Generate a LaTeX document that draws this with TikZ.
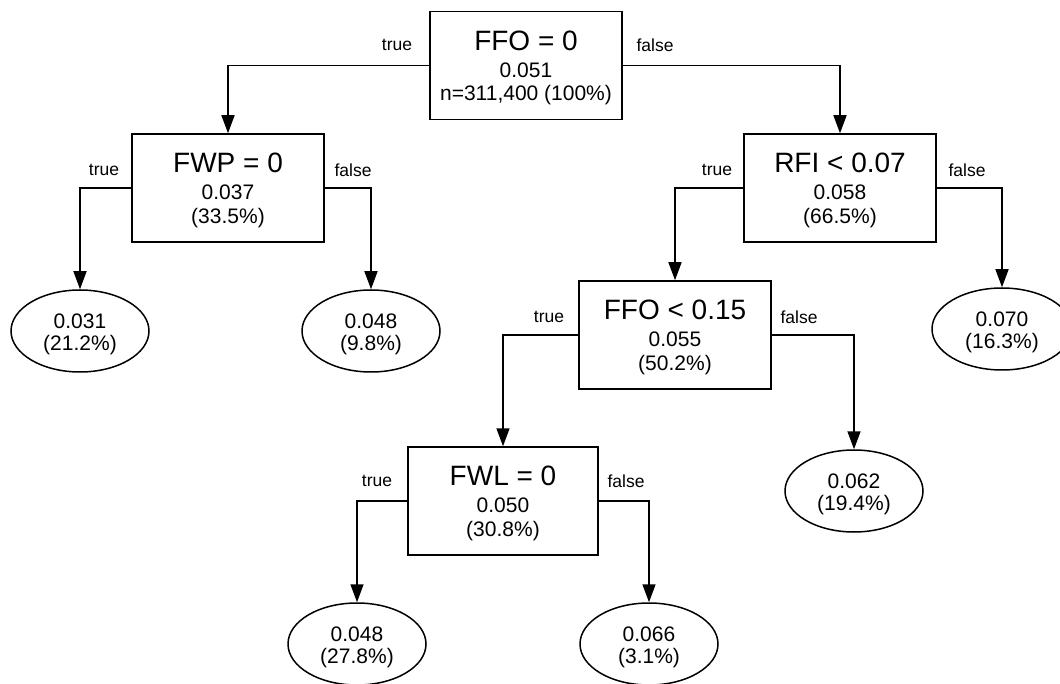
\documentclass[tikz,border=0pt]{standalone}
\usepackage{fontspec}
\setmainfont{Liberation Sans}
\usetikzlibrary{arrows.meta,shapes.geometric}
\tikzset{
  splitbox/.style={draw, line width=1.5pt, minimum width=192pt, minimum height=108pt, inner sep=0pt, align=center, font=\fontsize{21}{23.5}\selectfont},
  leafnode/.style={draw, ellipse, line width=1.5pt, minimum width=138pt, minimum height=82pt, inner sep=0pt, align=center, font=\fontsize{21}{22.5}\selectfont},
  edgelabel/.style={font=\fontsize{17.5}{20}\selectfont, inner sep=0pt},
  branch/.style={line width=1.5pt, -{Triangle[length=18pt,width=13pt]}}
}
\newcommand{\ttlfont}{\fontsize{28}{30}\selectfont}
\newcommand{\ttlstrut}{\rule{0pt}{24pt}}
\newcommand{\leafstrut}{\rule{0pt}{21pt}}
\begin{document}
\begin{tikzpicture}[x=1pt,y=-1pt]
\useasboundingbox (0,0) rectangle (1060,684);
% split nodes
\node[splitbox] (root) at (526,65.5) {\ttlstrut{\ttlfont FFO = 0}\\[3.5pt]0.051\\n=311,400 (100\%)};
\node[splitbox] (fwp) at (228,188) {\ttlstrut{\ttlfont FWP = 0}\\[3.5pt]0.037\\(33.5\%)};
\node[splitbox] (rfi) at (840,188) {\ttlstrut{\ttlfont RFI < 0.07}\\[3.5pt]0.058\\(66.5\%)};
\node[splitbox] (ffo) at (675,335) {\ttlstrut{\ttlfont FFO < 0.15}\\[3.5pt]0.055\\(50.2\%)};
\node[splitbox, minimum width=190pt] (fwl) at (503,501) {\ttlstrut{\ttlfont FWL = 0}\\[3.5pt]0.050\\(30.8\%)};
% leaves
\node[leafnode] (l1) at (80,331) {\leafstrut 0.031\\(21.2\%)};
\node[leafnode] (l2) at (371,331) {\leafstrut 0.048\\(9.8\%)};
\node[leafnode, minimum width=140pt] (l3) at (1002,329) {\leafstrut 0.070\\(16.3\%)};
\node[leafnode] (l4) at (854,491) {\leafstrut 0.062\\(19.4\%)};
\node[leafnode] (l5) at (357,644) {\leafstrut 0.048\\(27.8\%)};
\node[leafnode] (l6) at (649,644) {\leafstrut 0.066\\(3.1\%)};
% connectors
\draw[branch] (root.west) -| (fwp.north);
\draw[branch] (root.east) -| (rfi.north);
\draw[branch] (fwp.west) -| (l1.north);
\draw[branch] (fwp.east) -| (l2.north);
\draw[branch] (rfi.west) -| (ffo.north);
\draw[branch] (rfi.east) -| (l3.north);
\draw[branch] (ffo.west) -| (fwl.north);
\draw[branch] (ffo.east) -| (l4.north);
\draw[branch] (fwl.west) -| (l5.north);
\draw[branch] (fwl.east) -| (l6.north);
% labels
\node[edgelabel] (t0) at (397,45) {true};
\node[edgelabel] (f0) at (655,45) {false};
\node[edgelabel] (t1) at (104,170) {true};
\node[edgelabel] (f1) at (353,170) {false};
\node[edgelabel] (t2) at (717,170) {true};
\node[edgelabel] (f2) at (967,170) {false};
\node[edgelabel] (t3) at (549,317) {true};
\node[edgelabel] (f3) at (799,317) {false};
\node[edgelabel] (t4) at (377,481) {true};
\node[edgelabel] (f4) at (626,481) {false};
\end{tikzpicture}
\end{document}
